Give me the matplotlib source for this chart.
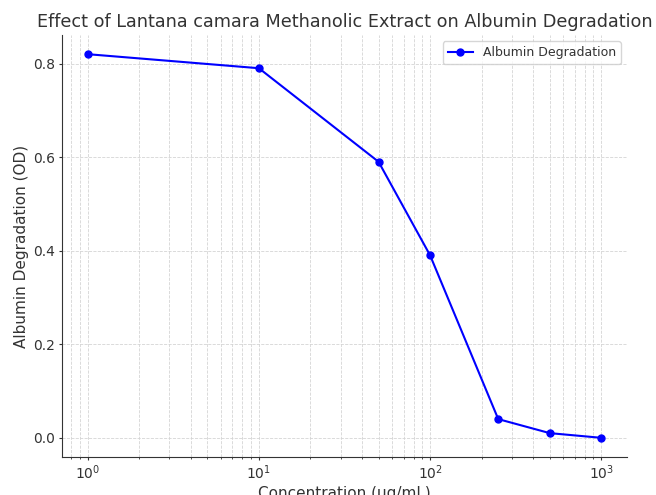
import matplotlib
matplotlib.use("Agg")
import matplotlib.pyplot as plt

concentration = [1, 10, 50, 100, 250, 500, 1000]
degradation = [0.82, 0.79, 0.59, 0.39, 0.04, 0.01, 0.0]
series_label = "Albumin Degradation"

plt.rcParams['text.color'] = '#333333'
plt.rcParams['axes.labelcolor'] = '#333333'
plt.rcParams['xtick.color'] = '#333333'
plt.rcParams['ytick.color'] = '#333333'

fig = plt.figure(figsize=(6.56, 4.95), dpi=100)
ax = fig.add_axes([62/656, 1-457/495, (627-62)/656, (457-35)/495])

ax.plot(concentration, degradation, marker='o', color='blue', markersize=5, linewidth=1.5, label=series_label)
ax.set_xscale('log')
ax.set_yticks([0.0, 0.2, 0.4, 0.6, 0.8])

ax.grid(True, which='both', linestyle='--', linewidth=0.6, color='#d4d4d4')
ax.set_axisbelow(True)
for s in ['top', 'right']:
    ax.spines[s].set_visible(False)
ax.spines['left'].set_color('#333333')
ax.spines['bottom'].set_color('#333333')
ax.tick_params(axis='both', which='major', labelsize=10, length=2.5, pad=2.3)
ax.tick_params(axis='x', which='minor', length=1.5)

ax.set_title("Effect of Lantana camara Methanolic Extract on Albumin Degradation", fontsize=12.7, pad=6)
ax.set_xlabel("Concentration (µg/mL)", fontsize=11, labelpad=3)
ax.set_ylabel("Albumin Degradation (OD)", fontsize=11, labelpad=3)
ax.legend(loc='upper right', fontsize=9)

fig.savefig("out.png", dpi=100)
